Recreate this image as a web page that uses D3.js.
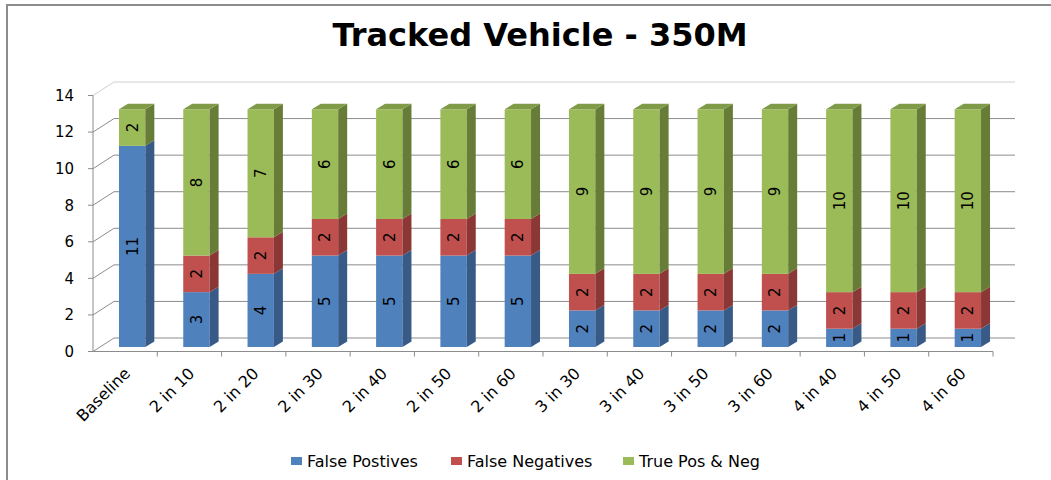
<!DOCTYPE html>
<html>
<head>
<meta charset="utf-8">
<script src="https://cdn.jsdelivr.net/npm/d3@7"></script>
<style>
  body { margin: 0; background: #fff; }
  text { font-family: "DejaVu Sans", Verdana, sans-serif; }
</style>
</head>
<body>
<svg id="chart"></svg>
<script>
var width = 1051,
    height = 480;

// chart data
var categories = ["Baseline", "2 in 10", "2 in 20", "2 in 30", "2 in 40", "2 in 50", "2 in 60",
                  "3 in 30", "3 in 40", "3 in 50", "3 in 60", "4 in 40", "4 in 50", "4 in 60"];
var falsePositives = [11, 3, 4, 5, 5, 5, 5, 2, 2, 2, 2, 1, 1, 1];
var falseNegatives = [0, 2, 2, 2, 2, 2, 2, 2, 2, 2, 2, 2, 2, 2];
var truePosNeg = [2, 8, 7, 6, 6, 6, 6, 9, 9, 9, 9, 10, 10, 10];
var seriesNames = ["False Postives", "False Negatives", "True Pos & Neg"];
var yTicks = [0, 2, 4, 6, 8, 10, 12, 14];

var colors = [
    {front: "#4f81bd", side: "#375a86", top: "#4a77ad"},
    {front: "#c0504d", side: "#8b3735", top: "#a84643"},
    {front: "#9bbb59", side: "#677d37", top: "#7f9b47"}
];

// 3d-ish geometry: front plane, wall depth, bar depth
var left = 93, right = 993, floorY = 351.5;
var wallDx = 21, wallDy = -13.5;
var barDx = 9, barDy = -5.5;
var barOffX = 7, barOffY = -4.5;

var x = d3.scaleBand()
    .domain(categories)
    .range([left, right])
    .paddingInner(0.59)
    .paddingOuter(0.295);

var h = d3.scaleLinear()
    .domain([0, 14])
    .range([0, 256]);

var svg = d3.select("#chart")
    .attr("width", width)
    .attr("height", height);

// outer border
svg.append("rect")
    .attr("x", 7)
    .attr("y", 5)
    .attr("width", 1060)
    .attr("height", 500)
    .style("fill", "none")
    .style("stroke", "#8c8c8c")
    .style("stroke-width", 2);

svg.append("text")
    .attr("x", 540)
    .attr("y", 46)
    .attr("text-anchor", "middle")
    .style("font-size", "32px")
    .style("font-weight", "bold")
    .text("Tracked Vehicle - 350M");

// walls and gridlines
var grid = svg.append("g");
yTicks.forEach(function (t, i) {
    var yf = floorY - h(t);
    var col = (t === 14) ? "#cfcfcf" : "#8c8c8c";
    grid.append("line")
        .attr("x1", left).attr("y1", yf)
        .attr("x2", left + wallDx).attr("y2", yf + wallDy)
        .style("stroke", col);
    grid.append("line")
        .attr("x1", left + wallDx).attr("y1", yf + wallDy)
        .attr("x2", right + wallDx + 1).attr("y2", yf + wallDy)
        .style("stroke", col);
    grid.append("line")
        .attr("x1", left - 5).attr("y1", yf)
        .attr("x2", left).attr("y2", yf)
        .style("stroke", "#8c8c8c");
    grid.append("text")
        .attr("x", 74)
        .attr("y", yf)
        .attr("dy", "0.36em")
        .attr("text-anchor", "end")
        .style("font-size", "15px")
        .text(t);
});

// y axis + floor
grid.append("line")
    .attr("x1", left).attr("y1", floorY - h(14))
    .attr("x2", left).attr("y2", floorY)
    .style("stroke", "#8c8c8c");
grid.append("line")
    .attr("x1", left).attr("y1", floorY)
    .attr("x2", right).attr("y2", floorY)
    .style("stroke", "#8c8c8c");

categories.forEach(function (c, i) {
    var tx = left + x.step() * (i + 1);
    grid.append("line")
        .attr("x1", tx).attr("y1", floorY)
        .attr("x2", tx).attr("y2", floorY + 5)
        .style("stroke", "#8c8c8c");
    grid.append("text")
        .attr("transform", "translate(" + (x(c) + x.bandwidth() / 2 + 2) + "," + (floorY + 19) + ")rotate(-45)")
        .attr("dy", "0.35em")
        .attr("text-anchor", "end")
        .style("font-size", "16px")
        .text(c);
});

// stacked bars
var stackData = categories.map(function (c, i) {
    return [falsePositives[i], falseNegatives[i], truePosNeg[i]];
});

var bars = svg.append("g");
stackData.forEach(function (vals, i) {
    var bx = x(categories[i]) + barOffX;
    var bw = x.bandwidth();
    var base = floorY + barOffY;
    var cum = 0;
    var lastIdx = 2;
    while (lastIdx > 0 && vals[lastIdx] === 0) lastIdx--;
    vals.forEach(function (v, s) {
        if (v === 0) return;
        var y0 = base - h(cum);
        var y1 = base - h(cum + v);
        cum += v;
        bars.append("rect")
            .attr("x", bx)
            .attr("y", y1)
            .attr("width", bw)
            .attr("height", y0 - y1)
            .style("fill", colors[s].front);
        bars.append("path")
            .attr("d", "M" + (bx + bw) + "," + y0 +
                "L" + (bx + bw) + "," + y1 +
                "L" + (bx + bw + barDx) + "," + (y1 + barDy) +
                "L" + (bx + bw + barDx) + "," + (y0 + barDy) + "Z")
            .style("fill", colors[s].side);
        if (s === lastIdx) {
            bars.append("path")
                .attr("d", "M" + bx + "," + y1 +
                    "L" + (bx + barDx) + "," + (y1 + barDy) +
                    "L" + (bx + bw + barDx) + "," + (y1 + barDy) +
                    "L" + (bx + bw) + "," + y1 + "Z")
                .style("fill", colors[s].top);
        }
        bars.append("text")
            .attr("transform", "translate(" + (bx + bw / 2) + "," + ((y0 + y1) / 2) + ")rotate(-90)")
            .attr("dy", "0.36em")
            .attr("text-anchor", "middle")
            .style("font-size", "15px")
            .text(v);
    });
});

// legend
var legendX = [291, 451, 623];
var legend = svg.append("g");
seriesNames.forEach(function (name, s) {
    legend.append("rect")
        .attr("x", legendX[s])
        .attr("y", 457)
        .attr("width", 11)
        .attr("height", 8)
        .style("fill", colors[s].front);
    legend.append("text")
        .attr("x", legendX[s] + 16)
        .attr("y", 461)
        .attr("dy", "0.36em")
        .style("font-size", "16px")
        .text(name);
});
</script>
</body>
</html>
